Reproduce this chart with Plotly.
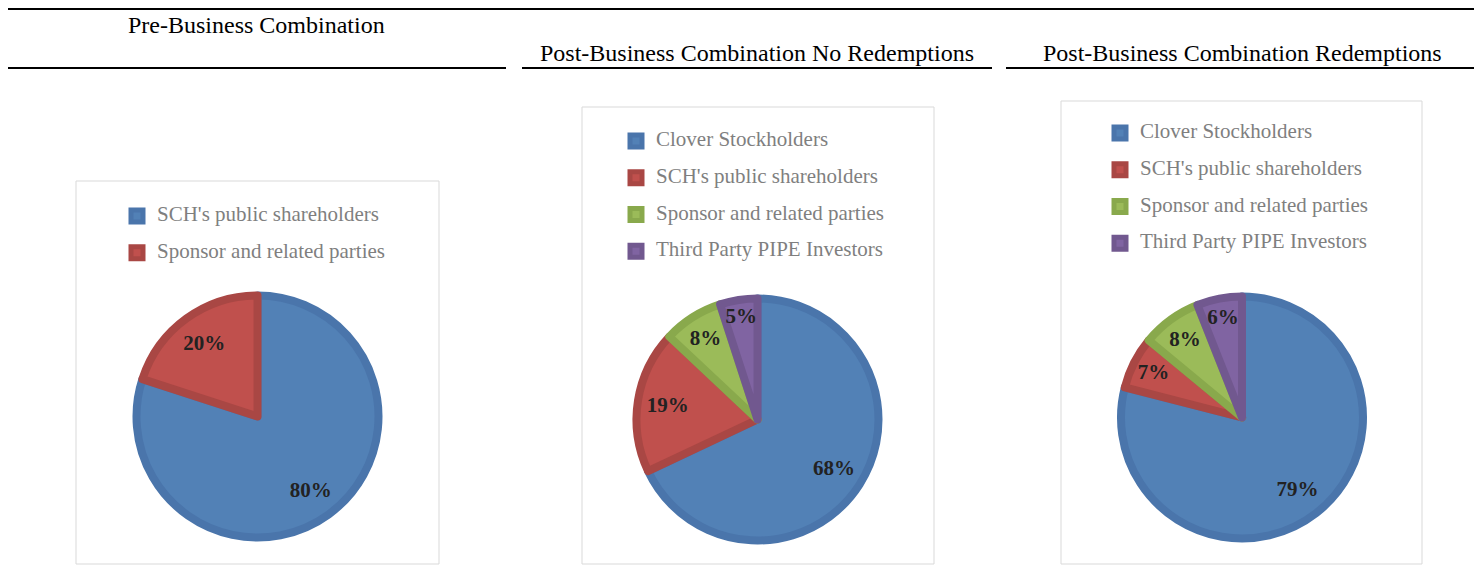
import plotly.graph_objects as go

W, H = 1482, 565
O = 8  # page body margin of the html page

# ---- data ----
pre_labels = ["SCH's public shareholders", "Sponsor and related parties"]
pre_values = [80, 20]

post_labels = ["Clover Stockholders", "SCH's public shareholders",
               "Sponsor and related parties", "Third Party PIPE Investors"]
no_red_values = [68, 19, 8, 5]
red_values = [79, 7, 8, 6]

titles = ["Pre-Business Combination",
          "Post-Business Combination No Redemptions",
          "Post-Business Combination Redemptions"]

# ---- styles ----
FONT = "Liberation Serif"
fill_pre = ["#5281b6", "#c0504d"]
line_pre = ["#4a75ab", "#a94744"]
fill_post = ["#5281b6", "#c0504d", "#9bbb59", "#8064a2"]
line_post = ["#4a75ab", "#a94744", "#89a94c", "#71588f"]

FW, FH = W - O, H - O


def fx(x):
    return (x - O) / FW


def fy(y):
    return 1 - (y - O) / FH


def leg_labels(names, k):
    # trailing spaces keep the entries of each pie distinct in its own legend
    return [f"<span style='font-size:21px'>{n}</span><br>" + " " * (k + 1) for n in names]


def dom(cx, cy, r):
    return dict(x=[fx(cx - r), fx(cx + r)], y=[fy(cy + r), fy(cy - r)])


R = 121
fig = go.Figure()


def add_pie(labels, values, fills, lines, d, legend, k):
    # coloured slices
    fig.add_trace(go.Pie(
        labels=leg_labels(labels, k), values=values, sort=False,
        direction="clockwise", rotation=0,
        marker=dict(colors=fills, line=dict(color=lines, width=8)),
        textinfo="none", hoverinfo="percent", domain=d, legend=legend,
    ))
    # transparent ring carrying the data labels (placed in the outer part)
    fig.add_trace(go.Pie(
        labels=[f"{n} {k}" for n in labels], values=values, sort=False,
        direction="clockwise", rotation=0, hole=0.5,
        marker=dict(colors=["rgba(0,0,0,0)"] * len(values), line=dict(width=0)),
        texttemplate="%{value}%", textposition="inside",
        insidetextorientation="horizontal",
        textfont=dict(family=FONT, size=21, color="#222222", weight="bold"),
        hoverinfo="skip", domain=d, showlegend=False,
    ))


add_pie(pre_labels, pre_values, fill_pre, line_pre, dom(257.5, 416.5, R), "legend", 0)
add_pie(post_labels, no_red_values, fill_post, line_post, dom(757.5, 419.5, R), "legend2", 1)
add_pie(post_labels, red_values, fill_post, line_post, dom(1242, 417.5, R), "legend3", 2)

shapes = []
# header rules
for (x0, x1, y) in [(8, 1476, 9), (8, 506, 68), (522, 992, 68), (1006, 1476, 68)]:
    shapes.append(dict(type="line", xref="paper", yref="paper",
                       x0=fx(x0), x1=fx(x1), y0=fy(y), y1=fy(y),
                       line=dict(color="black", width=2)))
# chart frames
for (x0, y0, x1) in [(76, 181, 439), (582, 107, 934), (1061, 101, 1422)]:
    shapes.append(dict(type="rect", xref="paper", yref="paper",
                       x0=fx(x0), x1=fx(x1), y0=fy(564), y1=fy(y0),
                       line=dict(color="#d9d9d9", width=1), layer="below"))

annotations = []
for t, (cx, cy) in zip(titles, [(256, 25), (757, 53), (1242, 53)]):
    annotations.append(dict(text=t, x=fx(cx), y=fy(cy), xref="paper", yref="paper",
                            showarrow=False, xanchor="center", yanchor="middle",
                            font=dict(family=FONT, size=24, color="black")))


def legend_cfg(x, y):
    return dict(x=fx(x), y=fy(y), xanchor="left", yanchor="top",
                xref="paper", yref="paper", valign="top",
                bgcolor="rgba(0,0,0,0)", borderwidth=0,
                font=dict(family=FONT, size=13, color="#7f7f7f"))


fig.update_layout(
    width=FW, height=FH, margin=dict(l=0, r=0, t=0, b=0),
    paper_bgcolor="white", plot_bgcolor="white",
    shapes=shapes, annotations=annotations,
    uniformtext=dict(minsize=21, mode="show"),
    legend=legend_cfg(117, 201),
    legend2=legend_cfg(616, 126),
    legend3=legend_cfg(1100, 118),
)

fig.write_html("out.html")
